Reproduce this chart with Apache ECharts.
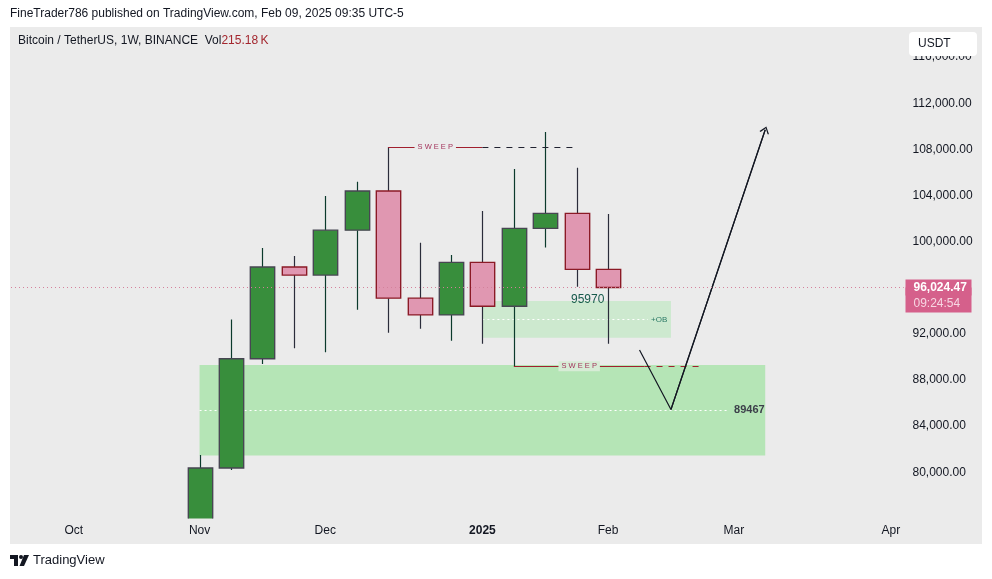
<!DOCTYPE html>
<html><head><meta charset="utf-8">
<script src="https://cdn.jsdelivr.net/npm/echarts@6/dist/echarts.min.js"></script>
<style>html,body{margin:0;padding:0;background:#ffffff}#c{width:992px;height:579px}</style>
</head><body><div id="c"></div>
<script>
// ---- data (weeks counted from the week of Nov 4, 2024) ----
const weekIdx = [0, 1, 2, 3, 4, 5, 6, 7, 8, 9, 10, 11, 12, 13];
const opens  = [68800, 80370, 89850, 97800, 97100, 101000, 104400, 95100, 93650, 98200, 94400, 101150, 102450, 97600];
const closes = [80370, 89850, 97800, 97100, 101000, 104400, 95100, 93650, 98200, 94400, 101150, 102450, 97600, 96024.47];
const lows   = [66800, 80200, 89400, 90750, 90400, 94100, 92100, 92450, 91400, 91150, 89200, 99500, 96100, 91150];
const highs  = [81500, 93250, 99450, 98750, 103950, 105200, 108200, 99900, 98850, 102650, 106300, 109500, 106400, 102400];

const monthTickIdx = [-4, 0, 4, 9, 13, 17, 22];
const monthLabels  = ['Oct', 'Nov', 'Dec', '2025', 'Feb', 'Mar', 'Apr'];

const lastPrice = 96024.47;
const countdown = '09:24:54';

const bigZoneX = [0, 18];
const bigZoneY = [89300, 81450];
const bigZoneMid = [0, 16.85, 85375];
const bigZoneLabel = '89467';

const obZoneX = [9, 15];
const obZoneY = [94850, 91670];
const obZoneMid = [9, 14.27, 93260];
const obZoneLabel = '+OB';

const obNote = [12.35, 94985];
const obNoteText = '95970';

const sweepTop = [6, 9, 12, 108200];        // solid from, solid to / dashed from, dashed to, level
const sweepBottom = [10, 14.16, 15.9, 89200];
const sweepText = 'S W E E P';

const arrowPts = [[14, 90600], [15, 85450], [18, 109700]];

// ---- build ----
const candleData = weekIdx.map((k, i) => [k, opens[i], closes[i], lows[i], highs[i]]);
const FONT = 'Liberation Sans, Arial, sans-serif';
const BG = '#ebebeb';
const chevron = 'path://M0,10 L5,0 L10,10 L8.7,10.7 L5,2.8 L1.3,10.7 Z';

function renderCandle(params, api) {
  const k = api.value(0), o = api.value(1), c = api.value(2), l = api.value(3), h = api.value(4);
  const pO = api.coord([k, o]), pC = api.coord([k, c]), pL = api.coord([k, l]), pH = api.coord([k, h]);
  const w = api.size([1, 0])[0] * 0.775;
  const up = c >= o;
  const top = Math.min(pO[1], pC[1]), bot = Math.max(pO[1], pC[1]);
  const x = Math.round(pO[0]) + 0.5;
  const wick = up ? '#0b3a2c' : '#2a2c3a';
  return {
    type: 'group',
    children: [
      { type: 'line', shape: { x1: x, y1: pH[1], x2: x, y2: top }, style: { stroke: wick, lineWidth: 1.2 } },
      { type: 'line', shape: { x1: x, y1: bot, x2: x, y2: pL[1] }, style: { stroke: wick, lineWidth: 1.2 } },
      { type: 'rect', shape: { x: x - w / 2, y: top, width: w, height: Math.max(bot - top, 1) },
        style: { fill: up ? '#388e3c' : '#e097b1', stroke: up ? '#474652' : '#8b1a26', lineWidth: 1.4 } }
    ]
  };
}

const priceText = lastPrice.toLocaleString('en-US', { minimumFractionDigits: 2 });
const priceLine = { color: '#d4819c', type: [1, 3], width: 1 };

const chart = echarts.init(document.getElementById('c'), null, { renderer: 'canvas' });
const option = {
  animation: false,
  backgroundColor: '#ffffff',
  textStyle: { fontFamily: FONT },
  grid: { left: 11, right: 88.5, top: 28, bottom: 60.6, containLabel: false },
  xAxis: {
    type: 'value', min: -6, max: 22.4, interval: 1,
    axisLine: { show: false }, axisTick: { show: false }, splitLine: { show: false },
    axisLabel: {
      margin: 6, color: '#131722', fontSize: 12, fontFamily: FONT,
      formatter: v => {
        const i = monthTickIdx.indexOf(v);
        if (i < 0) return '';
        return monthLabels[i] === '2025' ? '{b|2025}' : monthLabels[i];
      },
      rich: { b: { fontWeight: 'bold', fontSize: 12, color: '#131722', fontFamily: FONT } }
    }
  },
  yAxis: {
    type: 'value', position: 'right', min: 76000, max: 118530, interval: 4000,
    axisLine: { show: false }, axisTick: { show: false }, splitLine: { show: false },
    axisLabel: {
      margin: 9, color: '#131722', fontSize: 12, fontFamily: FONT,
      showMinLabel: false, showMaxLabel: false,
      formatter: v => v.toLocaleString('en-US', { minimumFractionDigits: 2, maximumFractionDigits: 2 })
    }
  },
  series: [
    {
      name: 'zones', type: 'scatter', z: 4, symbolSize: 0, silent: true,
      data: [obNote],
      label: { show: true, position: 'inside', formatter: obNoteText, color: '#175a4c', fontSize: 12, fontFamily: FONT,
               textBorderWidth: 0, textBorderColor: 'transparent', opacity: 1 },
      emphasis: { disabled: true },
      markArea: {
        silent: true, z: 1,
        data: [
          [{ coord: [bigZoneX[0], bigZoneY[0]], itemStyle: { color: '#b5e5b6' } }, { coord: [bigZoneX[1], bigZoneY[1]] }],
          [{ coord: [obZoneX[0], obZoneY[0]], itemStyle: { color: '#cde9cf' } }, { coord: [obZoneX[1], obZoneY[1]] }]
        ]
      },
      markLine: {
        silent: true, z: 2, symbol: ['none', 'none'],
        lineStyle: { color: '#ffffff', type: [2, 3], width: 1.2 },
        data: [
          [{ coord: [bigZoneMid[0], bigZoneMid[2]],
             label: { show: true, position: 'end', distance: 5, formatter: bigZoneLabel, color: '#3c3f4a', fontSize: 11, fontWeight: 'bold', fontFamily: FONT } },
           { coord: [bigZoneMid[1], bigZoneMid[2]] }],
          [{ coord: [obZoneMid[0], obZoneMid[2]],
             label: { show: true, position: 'end', distance: 3, formatter: obZoneLabel, color: '#2b7a66', fontSize: 8, fontFamily: FONT } },
           { coord: [obZoneMid[1], obZoneMid[2]] }]
        ]
      }
    },
    {
      name: 'BTCUSDT', type: 'custom', z: 3, clip: true,
      renderItem: renderCandle,
      encode: { x: 0, y: [1, 2, 3, 4] },
      data: candleData,
      markLine: {
        silent: true, z: 10, symbol: ['none', 'none'],
        data: [
          { yAxis: lastPrice, name: 'countdown',
            lineStyle: priceLine,
            label: { show: true, position: 'end', distance: 2, formatter: countdown,
              color: '#f7d6e2', fontSize: 12, fontFamily: FONT, lineHeight: 14, verticalAlign: 'top',
              backgroundColor: '#d5608b', padding: [9, 4, 2, 8], width: 54, align: 'left' } },
          { yAxis: lastPrice, name: 'price',
            lineStyle: priceLine,
            label: { show: true, position: 'end', distance: 2, formatter: priceText,
              color: '#ffffff', fontWeight: 'bold', fontSize: 12, fontFamily: FONT, lineHeight: 14,
              backgroundColor: '#d5608b', padding: [1, 4, 1, 8], width: 54, align: 'left' } }
        ]
      }
    },
    {
      name: 'arrow', type: 'line', z: 6, silent: true,
      data: arrowPts, symbol: 'none',
      lineStyle: { color: '#131722', width: 1.2 },
      markLine: {
        silent: true, z: 5, symbol: ['none', 'none'],
        data: [
          [{ coord: arrowPts[1], symbol: 'none', lineStyle: { color: '#131722', width: 1.2, type: 'solid' }, label: { show: false } },
           { coord: arrowPts[2], symbol: chevron, symbolSize: [10, 7] }],
          [{ coord: [sweepTop[0], sweepTop[3]], lineStyle: { color: '#a11f2e', width: 1, type: 'solid' },
             label: { show: true, position: 'middle', distance: 0, verticalAlign: 'middle', formatter: sweepText,
               color: '#a3345c', fontSize: 7.5, fontFamily: FONT, backgroundColor: BG, padding: [1, 3] } },
           { coord: [sweepTop[1], sweepTop[3]] }],
          [{ coord: [sweepTop[1], sweepTop[3]], lineStyle: { color: '#202230', width: 1, type: [6, 6] }, label: { show: false } },
           { coord: [sweepTop[2], sweepTop[3]] }],
          [{ coord: [sweepBottom[0], sweepBottom[3]], lineStyle: { color: '#a11f2e', width: 1, type: 'solid' },
             label: { show: true, position: 'middle', distance: 0, verticalAlign: 'middle', formatter: sweepText,
               color: '#a3345c', fontSize: 7.5, fontFamily: FONT, backgroundColor: '#d7ecd6', padding: [1, 3] } },
           { coord: [sweepBottom[1], sweepBottom[3]] }],
          [{ coord: [sweepBottom[1], sweepBottom[3]], lineStyle: { color: '#a11f2e', width: 1, type: [6, 6] }, label: { show: false } },
           { coord: [sweepBottom[2], sweepBottom[3]] }]
        ]
      }
    }
  ],
  graphic: [
    { type: 'rect', z: -10, silent: true, shape: { x: 10, y: 27, width: 972, height: 517 }, style: { fill: BG } },
    { type: 'text', z: 100, left: 10, top: 8, style: { text: 'FineTrader786 published on TradingView.com, Feb 09, 2025 09:35 UTC-5', fill: '#131722', font: '12px ' + FONT } },
    { type: 'text', z: 100, left: 18, top: 35, style: {
        text: '{a|Bitcoin / TetherUS, 1W, BINANCE  Vol}{r|215.18\u202FK}',
        rich: { a: { fill: '#131722', font: '12px ' + FONT }, r: { fill: '#a3262e', font: '12px ' + FONT } } } },
    { type: 'rect', z: 100, silent: true, shape: { x: 909, y: 32, width: 68, height: 24, r: 4 }, style: { fill: '#ffffff' } },
    { type: 'text', z: 101, left: 918, top: 38, style: { text: 'USDT', fill: '#131722', font: '12px ' + FONT } },
    { type: 'group', z: 100, left: 10, top: 555, children: [
        { type: 'rect', shape: { x: 0, y: 0, width: 8, height: 4 }, style: { fill: '#131722' } },
        { type: 'rect', shape: { x: 4, y: 0, width: 4, height: 11 }, style: { fill: '#131722' } },
        { type: 'circle', shape: { cx: 11, cy: 2, r: 2 }, style: { fill: '#131722' } },
        { type: 'polygon', shape: { points: [[14, 0], [19, 0], [14, 11], [9.5, 11]] }, style: { fill: '#131722' } }
    ] },
    { type: 'text', z: 100, left: 33, top: 554, style: { text: 'TradingView', fill: '#131722', font: '13px ' + FONT } }
  ]
};
chart.setOption(option);
</script>
</body></html>
